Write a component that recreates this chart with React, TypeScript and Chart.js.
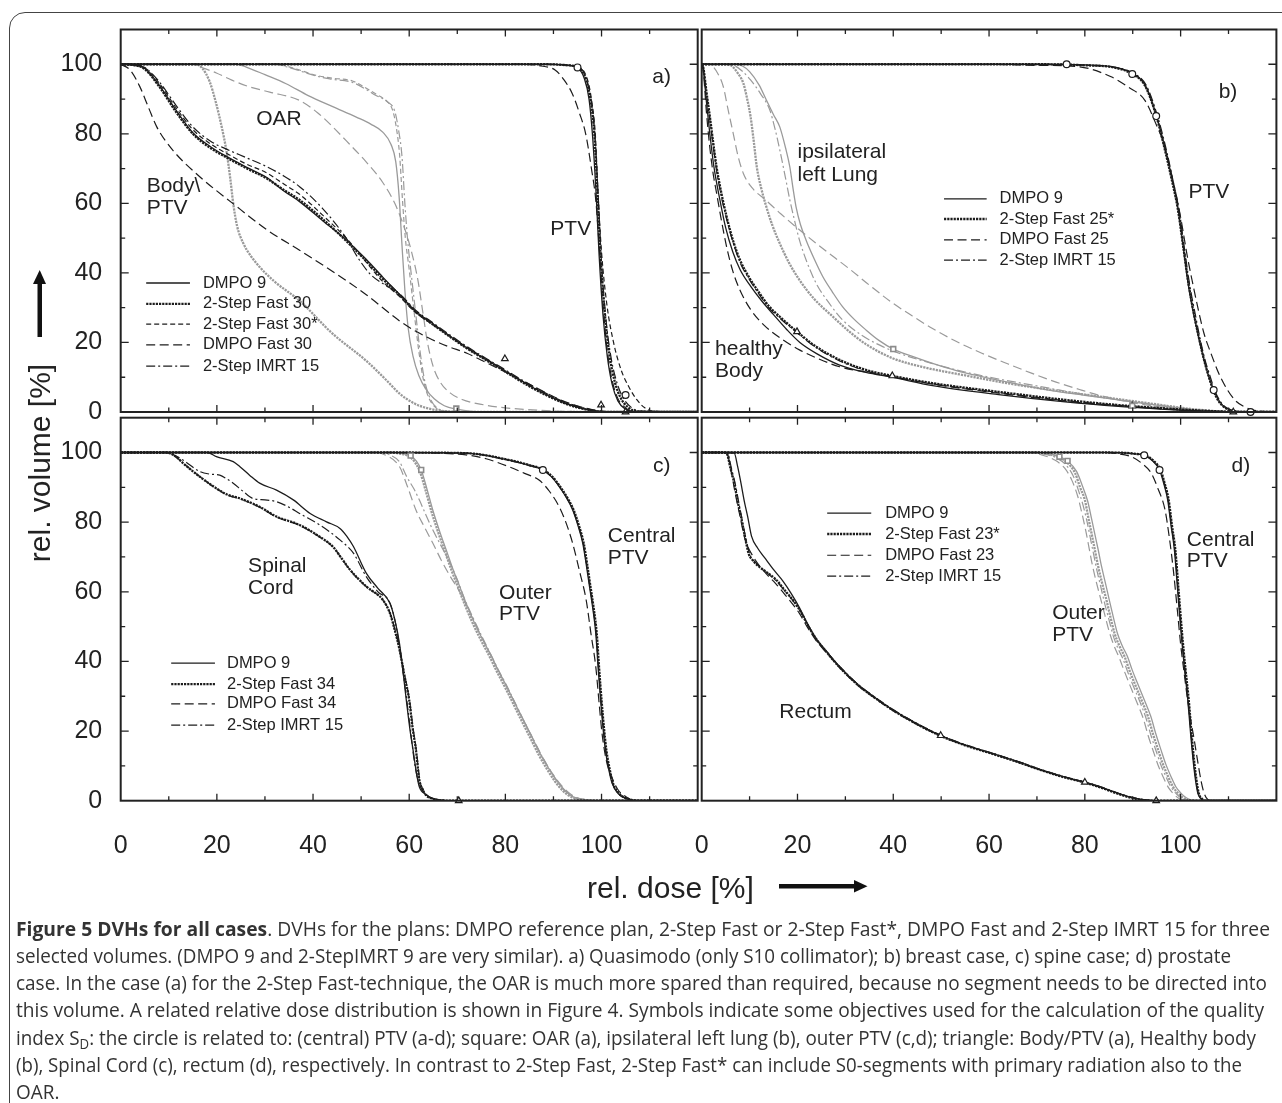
import React, { useEffect, useLayoutEffect, useRef } from 'react';
import { Chart, registerables } from 'chart.js';
Chart.register(...registerables);

type P = [number, number];

// ---------------- DATA (rel. dose %, rel. volume %) ----------------
// Panel a) Quasimodo
const aBodyDmpo9: P[] = [[0,100],[3,99.7],[5,98.8],[8,94],[11.5,86.8],[15,80.3],[19,76],[22,73.5],[26,70.5],[30.3,67.5],[34,63.5],[37.2,60.5],[42,55],[46.9,49.5],[51,44],[54.5,38.8],[58,33.8],[61.4,28.8],[64.8,25.5],[71.8,18.6],[78.7,12.8],[85.5,7.2],[92.5,2.5],[98,0.4],[102,0],[120,0]];
const aBodyFast: P[] = [[0,100],[3,99.7],[5,98.6],[8,93.6],[11.5,86.3],[15,80],[19,75.6],[22,73.2],[26,70.2],[30.3,67.2],[34,63.8],[37.2,61],[42,55.5],[46.9,49.2],[51,43.5],[54.5,38.3],[58,33.6],[61.4,28.8],[64.8,25.3],[71.8,18.5],[78.7,12.7],[85.5,7],[92.5,2.4],[98,0.4],[102,0],[120,0]];
const aBodyFastStar: P[] = [[0,100],[3,99.8],[5,99],[8,94.6],[11.5,87.5],[15,81.2],[19,76.8],[22,74.4],[26,71.4],[30.3,68.8],[34,65.5],[37.2,62.6],[42,56.6],[46.9,50],[51,43.2],[54.5,37.5],[58,33.2],[61.4,28.5],[64.8,25.2],[71.8,18.8],[78.7,13],[85.5,7.3],[92.5,2.6],[98,0.5],[102,0],[120,0]];
const aBodyDmpoFast: P[] = [[0,100],[2,98.3],[4,93.5],[5.8,87.5],[7.5,82],[10.9,75.2],[16.5,67.6],[23.3,60],[30.3,52.5],[37.2,46.5],[44,40.5],[51,33.8],[58,26.2],[61.4,23.2],[64.8,20.8],[68,18.9],[72,16.9],[75,14.9],[80,11.5],[85.5,7.6],[92.5,2.9],[98,0.7],[103,0],[120,0]];
const aBodyImrt: P[] = [[0,100],[3,99.8],[5,99.1],[8,95],[11.5,88.2],[15,82],[19,77.6],[22,75.6],[26,73.2],[30.3,70.6],[34,67.8],[37.2,64.8],[42,58.5],[46.9,50],[49.5,44],[52,39.5],[55,36.5],[58,34],[61.4,29.2],[64.8,25.8],[71.8,19],[78.7,13.2],[85.5,7.6],[92.5,2.8],[98,0.6],[102,0],[120,0]];

const aPtvDmpo9: P[] = [[0,100],[88,100],[92.5,99.8],[95,99],[96.4,96],[97.4,90],[98.1,80],[98.9,62],[99.5,45],[100.3,28],[101.2,16],[102.2,8],[103.4,3.2],[104.9,0.9],[107,0.1],[120,0]];
const aPtvFast: P[] = [[0,100],[89,100],[93,99.7],[95.3,99],[96.8,95.5],[97.8,89],[98.5,80],[99.2,62],[99.8,45],[100.7,28],[101.7,16],[102.8,8.5],[104,4],[105.5,1.4],[107.5,0.2],[120,0]];
const aPtvFastStar: P[] = [[0,100],[89.5,100],[93.5,99.6],[95.8,98.8],[97.2,95],[98,89],[98.7,80],[99.3,62],[100,46],[101.1,31],[102.5,20],[104.1,12],[105.7,7.2],[107.3,3.6],[109,1.2],[111,0.2],[120,0]];
const aPtvDmpoFast: P[] = [[0,100],[84,100],[87,99.6],[90.4,98.3],[92.2,95.5],[93.9,91.6],[95.4,86],[96.7,80],[97.9,70],[98.8,61],[99.5,48],[100.2,33],[101,20],[102,10.5],[103.2,4.5],[104.8,1.4],[107,0.2],[120,0]];
const aPtvImrt: P[] = [[0,100],[89,100],[93,99.7],[95.5,99],[96.9,95.5],[97.9,89],[98.6,80],[99.3,62],[99.9,45],[100.9,27],[102,15.5],[103.3,8],[104.7,3.6],[106.3,1.2],[108.3,0.2],[120,0]];

const aOarDmpo9: P[] = [[0,100],[24,100],[26.1,99.2],[30,97],[34.4,94.4],[39,91],[44.1,87.8],[49,84.8],[52,82.8],[54.5,80.5],[56.2,77],[57.2,72],[57.9,62],[58.5,48],[59.1,35],[59.8,24],[60.8,16],[62,10.5],[63.5,6.5],[65.2,3.8],[67.3,1.8],[69.8,0.8],[73,0.2],[80,0],[120,0]];
const aOarFast: P[] = [[0,100],[15.5,100],[17,98.8],[18.5,95],[19.8,89],[21,82],[22,75],[22.8,67],[23.4,60],[24.2,53.5],[25.5,48.5],[27,45],[28.9,41.7],[32,37.5],[37.2,32],[44,22.6],[51,14.8],[55,9.5],[58,5.3],[61,2.5],[64,1],[68,0.2],[75,0],[120,0]];
const aOarFastStar: P[] = [[0,100],[32,100],[34.4,99.5],[37.5,98.2],[40.7,96.8],[44,96],[48.2,95.2],[51,93.2],[53,91.5],[55.2,89.5],[56.5,87],[57.3,82],[58,74],[58.6,61],[59.2,50],[60,41],[61,29],[62,17.5],[63,9],[64.1,4],[65.5,1.3],[67,0.3],[70,0],[120,0]];
const aOarDmpoFast: P[] = [[0,100],[15,100],[17,99],[19.9,97.5],[23,95.5],[26.8,93.5],[31,92],[37.2,89.6],[41,86],[44.1,82],[47.6,77],[51,72],[54.5,66],[57,60],[59,53],[60.5,46],[61.8,38],[62.8,29],[63.8,20],[65,13],[66.5,8.5],[68.5,5.5],[71,3.6],[75,2.2],[80,1.2],[87,0.5],[95,0.1],[100,0],[120,0]];
const aOarImrt: P[] = [[0,100],[32,100],[34.4,99.3],[37.5,98],[40.7,96.6],[44,95.7],[48.2,94.8],[51,92.8],[53,91.1],[55.5,89.2],[57,86.5],[57.8,81],[58.5,73.5],[59.1,60],[59.7,49],[60.4,40],[61.3,29],[62.3,17],[63.3,8.5],[64.5,3.5],[66,1],[68,0.2],[72,0],[120,0]];

const aCircles: P[] = [[95,99.1],[105,4.9]];
const aSquares: P[] = [[69.8,1]];
const aTriangles: P[] = [[79.9,15.3],[99.9,2],[105,0]];

// Panel b) breast case
const bPtvDmpo9: P[] = [[0,100],[70,100],[80,99.8],[86,99.2],[89.9,97.4],[92.5,94.2],[94.9,85.5],[96.7,76],[98.2,67],[99.4,59],[100.5,48],[101.5,37.5],[102.6,29],[103.6,22.5],[104.7,16],[105.7,11],[106.9,6.3],[108,3.3],[109.1,1.5],[110.5,0.5],[112,0.1],[120,0]];
const bPtvFast: P[] = [[0,100],[72,100],[80,99.7],[86,99.1],[89.9,97.2],[92.5,94],[94.9,85.2],[96.7,75.5],[98.2,66.5],[99.4,58.5],[100.6,47],[101.7,36.5],[102.8,28],[103.8,21.5],[104.8,15.5],[105.8,10.5],[106.9,6],[108,3],[109.3,1.2],[111,0.3],[113,0],[120,0]];
const bPtvDmpoFast: P[] = [[0,100],[60,100],[70,99.7],[78.7,99.3],[85.5,96.4],[89,93.5],[92.5,89.7],[94.8,83],[96.7,76.3],[98.5,66],[100,56],[101.5,44],[102.6,36.5],[103.6,30],[104.9,22.5],[106.3,17],[108,11],[109.8,6.3],[111.5,3.2],[113.3,1.5],[115,0.6],[117,0.2],[120,0]];
const bPtvImrt: P[] = [[0,100],[72,100],[80,99.7],[86,99.2],[90,97.5],[92.8,94],[95.2,85],[97,75.5],[98.5,66],[99.7,58],[100.8,47],[101.9,36.5],[103,28.5],[104,21.5],[105,15.5],[106.1,10.5],[107.2,6],[108.3,3],[109.6,1.2],[111.5,0.2],[113,0],[120,0]];

const bBodyDmpo9: P[] = [[0,100],[0.3,99],[1,89],[1.7,80],[2.5,71],[3.8,61],[5,53],[6.5,46],[8,41],[10.2,36.2],[12.5,32],[15,28],[17.7,23.8],[20.5,20],[24,16.8],[28.8,13.5],[34.3,11.4],[39.8,10],[48.2,7.6],[62,5],[75.9,2.9],[87,1.6],[95,0.9],[103,0.3],[110,0.1],[120,0]];
const bBodyFast: P[] = [[0,100],[0.3,99.3],[1,92],[1.7,85],[2.4,77.5],[3.1,70.5],[4.1,63],[5.2,56.2],[6.5,49.5],[8,43.7],[10,38.5],[12.1,34.1],[14,30.5],[16.3,27.4],[19.9,23.1],[23.9,18.8],[28.8,15],[34.3,12.1],[39.8,10.4],[48.2,8.3],[62,5.8],[75.9,3.5],[87,2],[95,1.2],[103,0.5],[110,0.1],[120,0]];
const bBodyDmpoFast: P[] = [[0,100],[0.3,98.5],[1,86],[1.7,76],[2.4,68.5],[3.1,63],[4,56],[5.2,47.5],[6.5,40.5],[8,35],[10.2,29.5],[13,25],[17,20.7],[20.5,17.8],[23.9,15.6],[28.8,13],[34.3,11.5],[39.8,10.1],[48.2,8],[62,5.4],[75.9,3.1],[87,1.8],[95,1],[103,0.4],[110,0.1],[120,0]];
const bBodyImrt: P[] = [[0,100],[0.3,99.3],[1,91.5],[1.7,84],[2.4,76.5],[3.1,69.5],[4.1,62],[5.2,55.5],[6.5,49],[8,43],[10,38],[12.1,33.6],[14,30],[16.3,27],[19.9,22.8],[23.9,18.5],[28.8,14.7],[34.3,11.8],[39.8,10.2],[48.2,8.1],[62,5.6],[75.9,3.3],[87,1.9],[95,1.1],[103,0.4],[110,0.1],[120,0]];

const bLungDmpo9: P[] = [[0,100],[7,100],[8.5,99.5],[10,97.9],[12,94],[13.5,89.7],[15,85.5],[16.3,82],[17.5,76],[18.4,70.5],[19.1,64],[19.7,59],[20.6,54],[21.8,49.4],[23.5,44],[25.3,38.9],[27.3,34.5],[29.4,30.3],[31.8,26.7],[34.3,23.6],[37,20.6],[40,18.1],[44,16],[48.2,14],[53,12],[58.5,10.2],[65,8.3],[72.4,6.3],[80,4.8],[87,3.5],[95,2],[102,0.8],[108,0.2],[115,0],[120,0]];
const bLungFast: P[] = [[0,100],[4,100],[5.9,99.8],[7.5,97.5],[8.7,94.5],[9.5,90],[10.2,85],[10.9,77.5],[11.5,70.5],[12.4,64.5],[13.5,59],[14.8,53.5],[16.3,48.5],[18.2,43],[20.4,38],[23.5,32.5],[27.4,27.4],[30.5,23.5],[34.3,19.5],[39.8,15.5],[46,13],[55.1,10.5],[65,8],[75.9,5.8],[87,3.7],[95,2.2],[102,0.9],[108,0.2],[115,0],[120,0]];
const bLungDmpoFast: P[] = [[0,100],[1.5,100],[2.4,99.3],[3.5,97],[4.5,93.6],[5.5,87],[6.6,80],[7.6,73.5],[8.7,68.6],[10.5,64.5],[13.5,60.8],[16.5,57],[20.4,52.4],[25,47.3],[30.8,41.2],[35,36.5],[39.8,31.4],[44,27.6],[48.2,24],[53,20.4],[58.5,16.9],[64,13.8],[69,11.1],[74,8.6],[79.3,6.3],[83,4.8],[87,3.5],[92,2.2],[97,1.2],[102,0.5],[107,0.1],[112,0],[120,0]];
const bLungImrt: P[] = [[0,100],[5,100],[7,99.5],[8.5,98],[10.2,95.5],[12.3,91.5],[14.2,86.9],[15.3,81.5],[16.3,75.4],[17.4,68],[18.4,61],[19.4,55],[20.4,49.5],[22,43],[23.9,37],[26.5,31.5],[29.4,26.5],[33.5,22],[37.8,18.8],[42,16.5],[48,14],[55,11.5],[62,9.5],[70,7.5],[78,5.5],[87,3.5],[95,2],[102,0.8],[108,0.2],[115,0],[120,0]];

const bCircles: P[] = [[76.2,100],[89.9,97.2],[94.9,85.1],[106.9,6.3],[114.6,0]];
const bSquares: P[] = [[40,18.1],[89.9,1.8]];
const bTriangles: P[] = [[19.9,23.1],[39.8,10.4],[89.9,1.7],[111,0]];

// Panel c) spine case
const cCordDmpo9: P[] = [[0,100],[18,100],[19.9,98.8],[23.4,97.4],[24.8,95.9],[26.8,93.5],[28.9,91.2],[32.4,89.2],[35.9,86.4],[39.4,82.5],[42.8,80.1],[45.6,78.2],[47,76],[48.4,73],[51.1,65.3],[53.5,61],[56,56.7],[57,52],[58,45],[59.4,28.9],[60.2,20],[60.8,14.6],[61.5,8],[62.1,4],[63.5,1.8],[64.8,0.7],[67,0.1],[70,0],[120,0]];
const cCordFast: P[] = [[0,100],[9.5,100],[11.5,98.8],[13,96.9],[16.5,93],[19.9,89.7],[22,88],[24.8,86.8],[28.9,84.4],[32.4,81.6],[37.2,79.2],[41.4,75.8],[44.1,73],[46,69.5],[47.7,66.3],[51.1,61.5],[54.5,57.7],[56,53.8],[57,49],[58,43.3],[59,36],[60,28.9],[60.7,21],[61.4,14.6],[62.1,6],[62.8,3.2],[63.5,1.6],[65,0.5],[66,0.2],[70,0],[120,0]];
const cCordDmpoFast: P[] = [[0,100],[9.5,100],[11.6,98.6],[13.2,96.7],[16.7,92.8],[20,89.5],[22.2,87.8],[25,86.6],[29,84.2],[32.5,81.4],[37.3,79],[41.5,75.6],[44.2,72.8],[46.1,69.3],[47.8,66.1],[51.2,61.3],[54.6,57.5],[56.1,53.6],[57.1,48.8],[58.1,43],[59.1,35.7],[60.1,28.6],[60.8,20.7],[61.5,14.3],[62.2,5.8],[63,3],[63.8,1.4],[65.3,0.4],[67,0.1],[70,0],[120,0]];
const cCordImrt: P[] = [[0,100],[9.5,100],[11.5,99],[13,97.8],[16.5,94.5],[18.5,93.8],[20.6,93.5],[22,92.5],[23.4,91.2],[25.5,88.8],[27.5,86.8],[30,86.4],[32.4,85.9],[35,84.3],[37.2,82.5],[41.4,79.2],[43.5,77.2],[45.6,74.9],[48.4,71.1],[51.1,64.3],[53.5,60],[56,56.7],[57.3,50],[58.2,42],[59.2,32],[60.2,21],[61,12],[61.8,6],[63,2.5],[64.5,0.9],[66.5,0.2],[70,0],[120,0]];

const cCentralDmpo9: P[] = [[0,100],[58,100],[71.8,99.8],[80.8,97.8],[84.5,96.5],[87.8,95],[89.6,93],[91.2,90.2],[92.7,87],[94,83.5],[95.1,79],[96.1,73.9],[96.8,68],[97.4,62.4],[98.2,55],[98.8,48.1],[99.3,38],[99.8,28.9],[100.3,21],[100.8,14.6],[101.5,9],[102.2,5],[103.5,2],[105,0.7],[107.7,0],[120,0]];
const cCentralFast: P[] = [[0,100],[58,100],[72,99.8],[81,97.8],[84.7,96.5],[88,95],[89.8,93],[91.4,90.2],[92.9,87],[94.2,83.5],[95.3,79],[96.3,73.9],[97,68],[97.6,62.4],[98.4,55],[99,48.1],[99.5,38],[100,28.9],[100.5,21],[101,14.6],[101.7,9],[102.4,5],[103.7,2],[105.2,0.7],[107.9,0],[120,0]];
const cCentralDmpoFast: P[] = [[0,100],[58,100],[71.8,99.3],[76,98.2],[80.8,95.9],[84,94],[87,92.1],[89.2,88.8],[91.2,84.4],[92.7,79.5],[94,73.9],[95.5,65.5],[96.8,57.7],[97.8,48],[98.8,38.5],[99.5,28],[100.1,19.4],[101,11.5],[102.2,6.5],[103.5,3],[105,1.2],[106.3,0.2],[108,0],[120,0]];
const cCentralImrt: P[] = [[0,100],[58,100],[71.9,99.8],[80.9,97.7],[84.6,96.4],[87.9,94.9],[89.7,92.9],[91.3,90.1],[92.8,86.9],[94.1,83.4],[95.2,78.9],[96.2,73.8],[96.9,67.9],[97.5,62.3],[98.3,54.9],[98.9,48],[99.4,37.9],[99.9,28.8],[100.4,20.9],[100.9,14.5],[101.6,8.9],[102.3,4.9],[103.6,1.9],[105.1,0.6],[107.8,0],[120,0]];

const cOuterDmpo9: P[] = [[0,100],[56,100],[58,99.8],[60.3,99.1],[61.5,97.5],[62.5,95],[63.7,89.5],[64.9,83.5],[66.3,77.5],[67.7,72],[69.1,66.5],[70.5,61.5],[71.9,56.5],[73.3,51.9],[75,47],[76.8,42.3],[78.5,37.5],[80.3,32.7],[82,28],[83.7,23.2],[85.5,18.3],[87.2,13.6],[88.9,9.5],[90.6,5.9],[92.3,3],[94.1,1.1],[96.9,0.2],[100,0],[120,0]];
const cOuterFast: P[] = [[0,100],[56,100],[58,99.7],[60,98.9],[61.2,97.2],[62.2,94.6],[63.4,89.2],[64.6,83.2],[66,77.2],[67.4,71.7],[68.8,66.2],[70.2,61.2],[71.6,56.2],[73,51.6],[74.7,46.7],[76.5,42],[78.2,37.2],[80,32.4],[81.7,27.7],[83.4,22.9],[85.2,18],[86.9,13.3],[88.6,9.2],[90.3,5.6],[92,2.8],[93.8,1],[96.6,0.2],[100,0],[120,0]];
const cOuterDmpoFast: P[] = [[0,100],[52,100],[55,99.3],[58,95.9],[59.7,90],[61.4,83.5],[63.2,78.5],[64.9,74],[66.7,69],[68.5,64.5],[70.5,60],[72.3,55],[74,50],[75.8,45],[77.5,40.3],[79.2,35.5],[81,30.8],[82.7,26],[84.5,21.2],[86.3,16.3],[88,11.8],[89.7,8],[91.4,4.8],[93.2,2.3],[95,0.8],[97.5,0.1],[100,0],[120,0]];
const cOuterImrt: P[] = [[0,100],[54,100],[56,99.3],[58,97.3],[59.5,93],[61,89.5],[62.1,86.4],[63.5,82],[64.9,77.8],[66.7,73],[68.5,68.2],[70,63.5],[71.5,58],[73.3,52.5],[75,47.5],[76.8,42.5],[78.5,37.7],[80.3,33],[82,28.2],[83.7,23.4],[85.5,18.5],[87.2,13.8],[88.9,9.7],[90.6,6],[92.3,3.1],[94.1,1.2],[96.9,0.2],[100,0],[120,0]];

const cCircles: P[] = [[87.8,95]];
const cSquares: P[] = [[60.3,99.1],[62.5,95]];
const cTriangles: P[] = [[70.3,0]];

// Panel d) prostate case
const dRectDmpo9: P[] = [[0,100],[5,100],[6.8,99.8],[7.5,96],[8.2,91.2],[8.9,86],[9.6,81.6],[10.4,76],[11.7,72.5],[13.3,69.5],[15.1,66.2],[17,63],[18.7,59.5],[20.4,55.5],[22,51],[23.9,46.5],[26,43],[28.8,38.5],[32.9,33],[36,29.8],[39.8,26.2],[44,22.8],[49.9,18.7],[55,16],[60.6,13.6],[66,11.2],[71,8.8],[76,6.7],[80,5.3],[83.5,3.8],[86.9,2.1],[89.5,1],[91.7,0.4],[94.9,0],[120,0]];
const dRectFast: P[] = [[0,100],[4.3,100],[5.2,99.8],[6,95.5],[6.8,91.2],[7.5,86],[8.2,81.6],[9,76],[9.8,71],[10.8,68.8],[12,67.2],[13.7,65.5],[15.6,63.4],[17.3,60.5],[19,57.7],[20.8,54],[22.3,50],[23.9,46.5],[26,42.8],[28.8,38.3],[32.9,32.9],[36,29.7],[39.8,26.1],[44,22.7],[49.9,18.6],[55,15.9],[60.6,13.5],[66,11.1],[71,8.7],[76,6.6],[80,5.2],[83.5,3.7],[86.9,2],[89.5,0.9],[91.7,0.3],[94.9,0],[120,0]];
const dRectDmpoFast: P[] = [[0,100],[4.5,100],[5.3,99.6],[6.1,95],[6.9,89],[7.8,83],[9.1,74.9],[10.8,70],[13.4,65.3],[15.5,62.3],[17.5,59],[20.4,53.8],[22,50],[23.9,46],[26,42.6],[28.8,38.2],[32.9,32.8],[36,29.6],[39.8,26],[44,22.6],[49.9,18.6],[55,16],[60.6,13.6],[66,11.1],[71,8.8],[76,6.7],[80,5.3],[83.5,3.8],[86.9,2.1],[89.5,1],[91.7,0.4],[94.9,0],[120,0]];
const dRectImrt: P[] = [[0,100],[4.5,100],[5.4,99.8],[6.2,95.5],[7,91],[7.7,86],[8.4,81],[9.2,75.5],[10.1,70.5],[11.2,68.5],[12.3,67],[14,65],[15.8,62.8],[17.5,60],[19.2,57.2],[21,53.5],[22.5,49.8],[24,46.3],[26,42.9],[28.8,38.6],[32.9,33.1],[36,29.9],[39.8,26.3],[44,22.9],[49.9,18.8],[55,16.1],[60.6,13.7],[66,11.3],[71,8.9],[76,6.8],[80,5.4],[83.5,3.9],[86.9,2.2],[89.5,1.1],[91.7,0.4],[94.9,0],[120,0]];

const dCentralDmpo9: P[] = [[0,100],[85,100],[88.3,99.9],[90.5,99.6],[92.4,99.2],[94,97.8],[95.6,95],[96.5,91],[97.3,86.4],[98,79],[98.7,72],[99.4,60],[100.1,48.1],[100.8,38],[101.5,28.9],[102.1,19],[102.6,11.7],[103.1,6],[103.6,2.1],[104.2,0.6],[105,0],[120,0]];
const dCentralFast: P[] = [[0,100],[85,100],[88.5,99.9],[90.7,99.6],[92.6,99.2],[94.2,97.8],[95.8,95],[96.7,91],[97.5,86.4],[98.2,79],[98.9,72],[99.6,60],[100.3,48.1],[101,38],[101.7,28.9],[102.3,19],[102.8,11.7],[103.3,6],[103.8,2.1],[104.4,0.6],[105.2,0],[120,0]];
const dCentralDmpoFast: P[] = [[0,100],[84,100],[86.5,99.7],[89.7,98.8],[91.8,97],[93.9,94],[95.3,89.5],[96.7,83.8],[97.7,75],[98.5,66],[99.3,55],[100,45],[100.8,36],[101.5,28.5],[102.2,22.5],[102.9,17],[103.6,11],[104.3,5.5],[104.9,2.2],[105.7,0.3],[106.5,0],[120,0]];
const dCentralImrt: P[] = [[0,100],[85,100],[88.4,99.9],[90.6,99.6],[92.5,99.2],[94.1,97.8],[95.7,95],[96.6,91],[97.4,86.4],[98.1,79],[98.8,72],[99.5,60],[100.2,48.1],[100.9,38],[101.6,28.9],[102.2,19],[102.7,11.7],[103.2,6],[103.7,2.1],[104.3,0.6],[105.1,0],[120,0]];

const dOuterDmpo9: P[] = [[0,100],[70,100],[73,99.5],[74.7,98.8],[76.4,97.6],[78.3,94.5],[79.6,90],[80.6,86],[81.4,81],[82.1,76.5],[82.8,72],[83.5,67.2],[84.3,62.5],[85.1,57.7],[85.9,53],[86.8,48.1],[87.8,44.5],[88.9,41.4],[89.9,37.5],[91,33.7],[92.4,29],[93.8,24.1],[94.8,19.3],[95.9,14.6],[96.9,10.5],[98,6.9],[99,4],[100.1,2.1],[101.1,0.9],[102.2,0.2],[104,0],[120,0]];
const dOuterFast: P[] = [[0,100],[70,100],[72.5,99.5],[74.5,98.7],[76.4,97],[78,94],[79,90],[80,86.4],[80.7,81.5],[81.4,76.8],[82.1,72],[82.8,67.2],[83.6,62.5],[84.5,57.7],[85.3,53],[86.2,48.1],[87.2,44.5],[88.3,41.4],[89.3,37.5],[90.4,33.7],[91.8,29],[93.2,24.1],[94.2,19.3],[95.3,14.6],[96.3,10.5],[97.4,6.9],[98.4,4],[99.5,2.1],[100.5,0.9],[101.6,0.2],[103,0],[120,0]];
const dOuterDmpoFast: P[] = [[0,100],[68,100],[71,99.3],[73.5,98],[75.8,95.5],[77.3,92],[78.5,87.5],[79.4,82.5],[80.2,77.5],[80.9,72.5],[81.6,67.5],[82.4,62.8],[83.3,58],[84.2,53.2],[85.1,48.5],[86.1,44.5],[87.2,41],[88.3,37],[89.4,33.2],[90.8,28.5],[92.2,23.6],[93.2,18.8],[94.3,14.2],[95.3,10.2],[96.4,6.7],[97.4,3.9],[98.5,2],[99.5,0.8],[100.6,0.2],[102,0],[120,0]];
const dOuterImrt: P[] = [[0,100],[69,100],[72,99.4],[74,98.5],[76,96.5],[77.6,93.2],[78.7,89],[79.6,85],[80.4,80.5],[81.1,75.8],[81.8,71],[82.5,66.3],[83.3,61.6],[84.1,56.9],[85,52.2],[85.9,47.5],[86.9,43.8],[88,40.6],[89,36.8],[90.1,33],[91.5,28.4],[92.8,23.6],[93.8,18.8],[94.9,14.2],[95.9,10.2],[97,6.7],[98,3.9],[99.1,2],[100.1,0.8],[101.2,0.2],[103,0],[120,0]];

const dCircles: P[] = [[92.4,99.2],[95.6,95]];
const dSquares: P[] = [[74.7,98.8],[76.4,97.6]];
const dTriangles: P[] = [[49.9,18.7],[80,5.3],[94.9,0]];

// Tick values
const xTickLabels = [0, 20, 40, 60, 80, 100];
const yTickLabels = [0, 20, 40, 60, 80, 100];

const legendA = ['DMPO 9', '2-Step Fast 30', '2-Step Fast 30*', 'DMPO Fast 30', '2-Step IMRT 15'];
const legendB = ['DMPO 9', '2-Step Fast 25*', 'DMPO Fast 25', '2-Step IMRT 15'];
const legendC = ['DMPO 9', '2-Step Fast 34', 'DMPO Fast 34', '2-Step IMRT 15'];
const legendD = ['DMPO 9', '2-Step Fast 23*', 'DMPO Fast 23', '2-Step IMRT 15'];

// ---------------- STYLE / LAYOUT ----------------
const PAGE_W = 1282, PAGE_H = 1103;
const BLACK = '#1c1c1c', GRAY = '#9a9a9a', INK = '#222222';
const FONT = '"Liberation Sans", Arial, Helvetica, sans-serif';

type Sty = 'solid' | 'dotted' | 'short' | 'long' | 'dashdot';
const STY: Record<Sty, { dash: number[]; width: number }> = {
  solid: { dash: [], width: 1.3 },
  dotted: { dash: [2.2, 1], width: 2.3 },
  short: { dash: [5, 3], width: 1.2 },
  long: { dash: [9, 4.5], width: 1.2 },
  dashdot: { dash: [9, 3, 2, 3], width: 1.2 },
};

interface Curve { data: P[]; sty: Sty; gray?: boolean }
interface Marks { data: P[]; shape: 'circle' | 'rect' | 'triangle'; gray?: boolean }
interface Note { text: string; x: number; y: number; align?: CanvasTextAlign; size?: number }
interface Legend { labels: string[]; styles: Sty[]; x0: number; x1: number; tx: number; ys: number[] }
interface Panel {
  rect: { l: number; t: number; r: number; b: number };
  curves: Curve[]; marks: Marks[]; notes: Note[]; legend: Legend;
  yLabels: boolean; xLabels: boolean;
}

const RECT_A = { l: 120.7, t: 29.5, r: 697.7, b: 412 };
const RECT_B = { l: 701.7, t: 29.5, r: 1278, b: 412 };
const RECT_C = { l: 120.7, t: 417.7, r: 697.7, b: 800.7 };
const RECT_D = { l: 701.7, t: 417.7, r: 1278, b: 800.7 };

const PANELS: Panel[] = [
  {
    rect: RECT_A, yLabels: true, xLabels: false,
    curves: [
      { data: aOarDmpo9, sty: 'solid', gray: true },
      { data: aOarFast, sty: 'dotted', gray: true },
      { data: aOarFastStar, sty: 'short', gray: true },
      { data: aOarDmpoFast, sty: 'long', gray: true },
      { data: aOarImrt, sty: 'dashdot', gray: true },
      { data: aBodyDmpo9, sty: 'solid' },
      { data: aBodyFast, sty: 'dotted' },
      { data: aBodyFastStar, sty: 'short' },
      { data: aBodyDmpoFast, sty: 'long' },
      { data: aBodyImrt, sty: 'dashdot' },
      { data: aPtvDmpo9, sty: 'solid' },
      { data: aPtvFast, sty: 'dotted' },
      { data: aPtvFastStar, sty: 'short' },
      { data: aPtvDmpoFast, sty: 'long' },
      { data: aPtvImrt, sty: 'dashdot' },
    ],
    marks: [
      { data: aCircles, shape: 'circle' },
      { data: aSquares, shape: 'rect', gray: true },
      { data: aTriangles, shape: 'triangle' },
    ],
    notes: [
      { text: 'OAR', x: 32.9, y: 84.3, align: 'center' },
      { text: 'Body\\', x: 5.4, y: 64.9 },
      { text: 'PTV', x: 5.4, y: 58.6 },
      { text: 'PTV', x: 93.6, y: 52.5, align: 'center' },
      { text: 'a)', x: 112.5, y: 96.3, align: 'center' },
    ],
    legend: { labels: legendA, styles: ['solid', 'dotted', 'short', 'long', 'dashdot'], x0: 5.3, x1: 14.4, tx: 17.1, ys: [37.1, 31.1, 25.3, 19.3, 13.2] },
  },
  {
    rect: RECT_B, yLabels: false, xLabels: false,
    curves: [
      { data: bLungDmpo9, sty: 'solid', gray: true },
      { data: bLungFast, sty: 'dotted', gray: true },
      { data: bLungDmpoFast, sty: 'long', gray: true },
      { data: bLungImrt, sty: 'dashdot', gray: true },
      { data: bBodyDmpo9, sty: 'solid' },
      { data: bBodyFast, sty: 'dotted' },
      { data: bBodyDmpoFast, sty: 'long' },
      { data: bBodyImrt, sty: 'dashdot' },
      { data: bPtvDmpo9, sty: 'solid' },
      { data: bPtvFast, sty: 'dotted' },
      { data: bPtvDmpoFast, sty: 'long' },
      { data: bPtvImrt, sty: 'dashdot' },
    ],
    marks: [
      { data: bCircles, shape: 'circle' },
      { data: bSquares, shape: 'rect', gray: true },
      { data: bTriangles, shape: 'triangle' },
    ],
    notes: [
      { text: 'ipsilateral', x: 20.0, y: 74.6 },
      { text: 'left Lung', x: 20.0, y: 68.2 },
      { text: 'healthy', x: 2.8, y: 18.1 },
      { text: 'Body', x: 2.8, y: 11.8 },
      { text: 'PTV', x: 105.9, y: 63.3, align: 'center' },
      { text: 'b)', x: 109.9, y: 91.9, align: 'center' },
    ],
    legend: { labels: legendB, styles: ['solid', 'dotted', 'long', 'dashdot'], x0: 50.6, x1: 59.5, tx: 62.2, ys: [61.3, 55.5, 49.5, 43.7] },
  },
  {
    rect: RECT_C, yLabels: true, xLabels: true,
    curves: [
      { data: cOuterDmpo9, sty: 'solid', gray: true },
      { data: cOuterFast, sty: 'dotted', gray: true },
      { data: cOuterDmpoFast, sty: 'long', gray: true },
      { data: cOuterImrt, sty: 'dashdot', gray: true },
      { data: cCordDmpo9, sty: 'solid' },
      { data: cCordFast, sty: 'dotted' },
      { data: cCordDmpoFast, sty: 'long' },
      { data: cCordImrt, sty: 'dashdot' },
      { data: cCentralDmpo9, sty: 'solid' },
      { data: cCentralFast, sty: 'dotted' },
      { data: cCentralDmpoFast, sty: 'long' },
      { data: cCentralImrt, sty: 'dashdot' },
    ],
    marks: [
      { data: cCircles, shape: 'circle' },
      { data: cSquares, shape: 'rect', gray: true },
      { data: cTriangles, shape: 'triangle' },
    ],
    notes: [
      { text: 'Spinal', x: 26.5, y: 67.3 },
      { text: 'Cord', x: 26.5, y: 60.9 },
      { text: 'c)', x: 112.5, y: 96.1, align: 'center' },
      { text: 'Central', x: 101.3, y: 75.9 },
      { text: 'PTV', x: 101.3, y: 69.6 },
      { text: 'Outer', x: 78.7, y: 59.5 },
      { text: 'PTV', x: 78.7, y: 53.5 },
    ],
    legend: { labels: legendC, styles: ['solid', 'dotted', 'long', 'dashdot'], x0: 10.5, x1: 19.6, tx: 22.1, ys: [39.5, 33.5, 27.8, 21.7] },
  },
  {
    rect: RECT_D, yLabels: false, xLabels: true,
    curves: [
      { data: dOuterDmpo9, sty: 'solid', gray: true },
      { data: dOuterFast, sty: 'dotted', gray: true },
      { data: dOuterDmpoFast, sty: 'long', gray: true },
      { data: dOuterImrt, sty: 'dashdot', gray: true },
      { data: dRectDmpo9, sty: 'solid' },
      { data: dRectFast, sty: 'dotted' },
      { data: dRectDmpoFast, sty: 'long' },
      { data: dRectImrt, sty: 'dashdot' },
      { data: dCentralDmpo9, sty: 'solid' },
      { data: dCentralFast, sty: 'dotted' },
      { data: dCentralDmpoFast, sty: 'long' },
      { data: dCentralImrt, sty: 'dashdot' },
    ],
    marks: [
      { data: dCircles, shape: 'circle' },
      { data: dSquares, shape: 'rect', gray: true },
      { data: dTriangles, shape: 'triangle' },
    ],
    notes: [
      { text: 'd)', x: 112.6, y: 96.0, align: 'center' },
      { text: 'Central', x: 101.3, y: 74.9 },
      { text: 'PTV', x: 101.3, y: 68.7 },
      { text: 'Outer', x: 73.2, y: 53.8 },
      { text: 'PTV', x: 73.2, y: 47.6 },
      { text: 'Rectum', x: 16.2, y: 25.5 },
    ],
    legend: { labels: legendD, styles: ['solid', 'dotted', 'long', 'dashdot'], x0: 26.2, x1: 35.4, tx: 38.3, ys: [82.6, 76.6, 70.5, 64.5] },
  },
];

// ---------------- PLUGIN: frame, inward ticks, labels, legend ----------------
const decorPlugin = {
  id: 'decor',
  afterDatasetsDraw(chart: any, _args: any, opts: any) {
    const panel: Panel = opts.panel;
    if (!panel) return;
    const { ctx, chartArea: ca } = chart;
    const xs = chart.scales.x, ys = chart.scales.y;
    ctx.save();
    ctx.setLineDash([]);
    ctx.strokeStyle = INK;
    ctx.lineWidth = 2;
    ctx.strokeRect(ca.left, ca.top, ca.right - ca.left, ca.bottom - ca.top);
    ctx.lineWidth = 1.3;
    ctx.beginPath();
    for (let v = 10; v < 120; v += 10) {
      const px = xs.getPixelForValue(v);
      const len = v % 20 === 0 ? 7 : 4.5;
      ctx.moveTo(px, ca.bottom); ctx.lineTo(px, ca.bottom - len);
      ctx.moveTo(px, ca.top); ctx.lineTo(px, ca.top + len);
    }
    for (let v = 10; v <= 100; v += 10) {
      const py = ys.getPixelForValue(v);
      const len = v % 20 === 0 ? 8 : 4.5;
      ctx.moveTo(ca.left, py); ctx.lineTo(ca.left + len, py);
      ctx.moveTo(ca.right, py); ctx.lineTo(ca.right - len, py);
    }
    ctx.stroke();

    ctx.fillStyle = INK;
    ctx.textBaseline = 'middle';
    if (panel.yLabels) {
      ctx.font = `25px ${FONT}`;
      ctx.textAlign = 'right';
      yTickLabels.forEach((v) => ctx.fillText(String(v), ca.left - 18.5, ys.getPixelForValue(v)));
    }
    if (panel.xLabels) {
      ctx.font = `25px ${FONT}`;
      ctx.textAlign = 'center';
      xTickLabels.forEach((v) => ctx.fillText(String(v), xs.getPixelForValue(v), ca.bottom + 45));
    }
    panel.notes.forEach((n) => {
      ctx.font = `${n.size || 21}px ${FONT}`;
      ctx.textAlign = n.align || 'left';
      ctx.fillText(n.text, xs.getPixelForValue(n.x), ys.getPixelForValue(n.y));
    });
    const lg = panel.legend;
    lg.labels.forEach((lab, i) => {
      const py = ys.getPixelForValue(lg.ys[i]);
      const s = STY[lg.styles[i]];
      ctx.beginPath();
      ctx.setLineDash(s.dash);
      ctx.lineWidth = s.width;
      ctx.strokeStyle = BLACK;
      ctx.moveTo(xs.getPixelForValue(lg.x0), py);
      ctx.lineTo(xs.getPixelForValue(lg.x1), py);
      ctx.stroke();
      ctx.setLineDash([]);
      ctx.font = `16.5px ${FONT}`;
      ctx.textAlign = 'left';
      ctx.fillText(lab, xs.getPixelForValue(lg.tx), py);
    });
    ctx.restore();
  },
};

function buildDatasets(panel: Panel) {
  const ds: any[] = [];
  panel.curves.forEach((c) => {
    const s = STY[c.sty];
    ds.push({
      data: c.data.map(([x, y]) => ({ x, y })),
      borderColor: c.gray ? GRAY : BLACK,
      borderWidth: s.width,
      borderDash: s.dash,
      pointRadius: 0,
      fill: false,
      cubicInterpolationMode: 'monotone',
      order: c.gray ? 2 : 1,
    });
  });
  panel.marks.forEach((m) => {
    ds.push({
      data: m.data.map(([x, y]) => ({ x, y })),
      showLine: false,
      pointStyle: m.shape,
      pointRadius: m.shape === 'triangle' ? 3.8 : 3.4,
      pointBackgroundColor: '#ffffff',
      pointBorderColor: m.gray ? '#8c8c8c' : BLACK,
      pointBorderWidth: m.gray ? 1.6 : 1.2,
      order: -1,
      clip: false,
    });
  });
  return ds;
}

function PanelChart({ panel }: { panel: Panel }) {
  const ref = useRef<HTMLCanvasElement>(null);
  useEffect(() => {
    const canvas = ref.current;
    if (!canvas) return;
    const { l, t, r, b } = panel.rect;
    const chart = new Chart(canvas, {
      type: 'line',
      data: { datasets: buildDatasets(panel) },
      options: {
        animation: false,
        responsive: false,
        maintainAspectRatio: false,
        events: [],
        layout: { padding: { left: l, top: t, right: PAGE_W - r, bottom: PAGE_H - b } },
        scales: {
          x: { type: 'linear', min: 0, max: 120, display: false },
          y: { type: 'linear', min: 0, max: 110, display: false },
        },
        plugins: {
          legend: { display: false },
          tooltip: { enabled: false },
          decor: { panel },
        } as any,
      },
      plugins: [decorPlugin as any],
    } as any);
    return () => chart.destroy();
  }, [panel]);
  return (
    <canvas
      ref={ref}
      width={PAGE_W}
      height={PAGE_H}
      style={{ position: 'absolute', left: 0, top: 0, width: PAGE_W, height: PAGE_H }}
    />
  );
}

// ---------------- CAPTION ----------------
const CAPTION_LEFT = 16;
const CAPTION_TOP = 918.5;
const CAPTION_STEP = 27.3;
const CAPTION_RIGHT_ENDS = [1270, 1231, 1267, 1264, 1256, 1242];
const CAPTION_LINES: React.ReactNode[] = [
  <><b>Figure 5 DVHs for all cases</b>. DVHs for the plans: DMPO reference plan, 2-Step Fast or 2-Step Fast*, DMPO Fast and 2-Step IMRT 15 for three</>,
  <>selected volumes. (DMPO 9 and 2-StepIMRT 9 are very similar). a) Quasimodo (only S10 collimator); b) breast case, c) spine case; d) prostate</>,
  <>case. In the case (a) for the 2-Step Fast-technique, the OAR is much more spared than required, because no segment needs to be directed into</>,
  <>this volume. A related relative dose distribution is shown in Figure 4. Symbols indicate some objectives used for the calculation of the quality</>,
  <>index S<sub style={{ fontSize: '0.7em', verticalAlign: '-0.25em', lineHeight: 0 }}>D</sub>: the circle is related to: (central) PTV (a-d); square: OAR (a), ipsilateral left lung (b), outer PTV (c,d); triangle: Body/PTV (a), Healthy body</>,
  <>(b), Spinal Cord (c), rectum (d), respectively. In contrast to 2-Step Fast, 2-Step Fast* can include S0-segments with primary radiation also to the</>,
  <>OAR.</>,
];

function Caption() {
  const refs = useRef<(HTMLDivElement | null)[]>([]);
  useLayoutEffect(() => {
    const scales: number[] = [];
    refs.current.forEach((el, i) => {
      if (!el || i >= CAPTION_RIGHT_ENDS.length) return;
      const w = el.getBoundingClientRect().width;
      const s = (CAPTION_RIGHT_ENDS[i] - CAPTION_LEFT) / w;
      scales.push(s);
      el.style.transform = `scaleX(${s})`;
    });
    const avg = scales.reduce((a, b) => a + b, 0) / Math.max(1, scales.length);
    const last = refs.current[CAPTION_LINES.length - 1];
    if (last) last.style.transform = `scaleX(${avg})`;
  }, []);
  return (
    <>
      {CAPTION_LINES.map((line, i) => (
        <div
          key={i}
          ref={(el) => { refs.current[i] = el; }}
          style={{
            position: 'absolute', left: CAPTION_LEFT, top: CAPTION_TOP + i * CAPTION_STEP,
            width: 'max-content', whiteSpace: 'nowrap', transformOrigin: '0 0',
            fontFamily: '"Open Sans", "Noto Sans", sans-serif', fontSize: 20, lineHeight: '20px',
            color: '#333333',
          }}
        >
          {line}
        </div>
      ))}
    </>
  );
}

export default function App() {
  return (
    <div style={{ position: 'absolute', left: 0, top: 0, width: PAGE_W, height: PAGE_H, overflow: 'hidden', background: '#ffffff' }}>
      <div style={{ position: 'absolute', left: 9, top: 12, width: 1400, height: 1300, border: '1.5px solid #444', borderRadius: 16, boxSizing: 'border-box' }} />
      {PANELS.map((p, i) => <PanelChart key={i} panel={p} />)}
      <div style={{
        position: 'absolute', left: 40 - 150, top: 463 - 15, width: 300, height: 30, lineHeight: '30px',
        textAlign: 'center', fontFamily: FONT, fontSize: 30, color: INK, transform: 'rotate(-90deg)', whiteSpace: 'nowrap',
      }}>rel. volume [%]</div>
      <div style={{
        position: 'absolute', left: 587, top: 873, height: 30, lineHeight: '30px',
        fontFamily: FONT, fontSize: 30, color: INK, whiteSpace: 'nowrap',
      }}>rel. dose [%]</div>
      <svg width={PAGE_W} height={PAGE_H} style={{ position: 'absolute', left: 0, top: 0, pointerEvents: 'none' }}>
        <rect x={37.5} y={282} width={4.5} height={55} fill="#111" />
        <polygon points="33,284 46,284 39.7,270" fill="#111" />
        <rect x={779} y={884} width={77} height={4.5} fill="#111" />
        <polygon points="854,880 854,892.5 867.5,886.2" fill="#111" />
      </svg>
      <Caption />
    </div>
  );
}
